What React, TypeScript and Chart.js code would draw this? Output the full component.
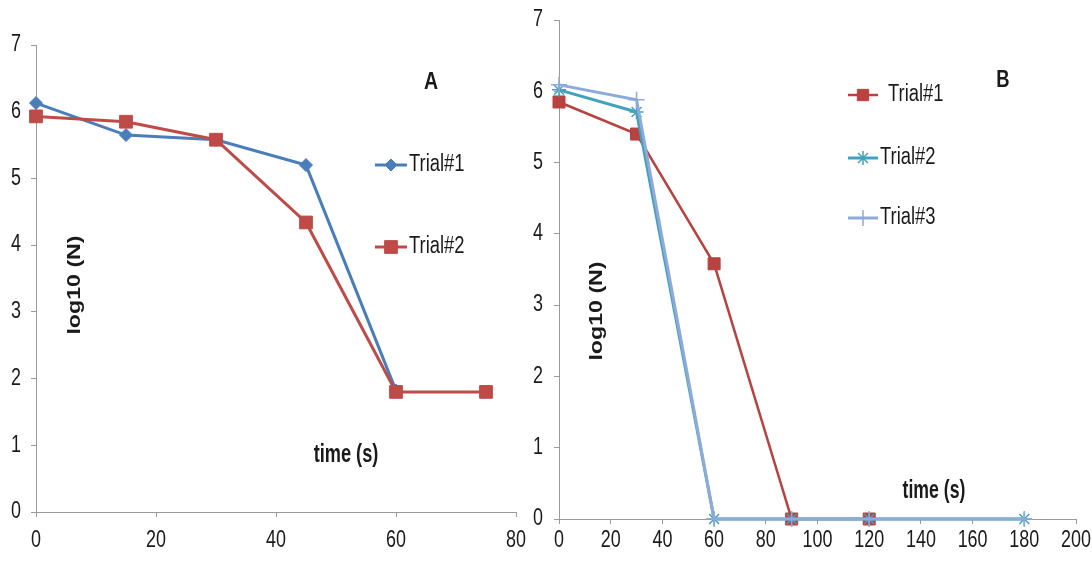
import React, { useEffect, useRef } from "react";
import { Chart, registerables } from "chart.js";
import { drawPoint } from "chart.js/helpers";

Chart.register(...registerables);

// Panel A: survival over time, two trials
const timesA = [0, 15, 30, 45, 60, 75];
const trial1A = [6.13, 5.65, 5.58, 5.2, 1.82, null];
const trial2A = [5.93, 5.85, 5.58, 4.34, 1.8, 1.8];

// Panel B: survival over time, three trials
const timesB = [0, 30, 60, 90, 120, 180];
const trial1B = [5.85, 5.4, 3.58, 0, 0, null];
const trial2B = [6.02, 5.71, 0, 0, 0, 0];
const trial3B = [6.09, 5.88, 0, 0, 0, 0];

const yTicks = [0, 1, 2, 3, 4, 5, 6, 7];

const SANS = '"Liberation Sans", Arial, sans-serif';
const AXIS_GREY = "#9a9a9a";
const TEXT = "#1a1a1a";

const toPoints = (xs: number[], ys: (number | null)[]) =>
  xs.map((x, i) => ({ x, y: ys[i] }));

// Text with a horizontal squeeze (narrow face) and optional rotation
function drawText(
  ctx: CanvasRenderingContext2D,
  text: string,
  x: number,
  y: number,
  font: string,
  sx: number,
  align: CanvasTextAlign = "center",
  rotate = 0
) {
  ctx.save();
  ctx.font = font;
  ctx.fillStyle = TEXT;
  ctx.textAlign = align;
  ctx.textBaseline = "middle";
  ctx.translate(x, y);
  if (rotate) ctx.rotate(rotate);
  ctx.scale(sx, 1);
  ctx.fillText(text, 0, 0);
  ctx.restore();
}

// Tick labels, free labels and a line+marker legend
const overlay = {
  id: "overlay",
  afterDraw(chart: any, _args: any, opts: any) {
    const ctx = chart.ctx as CanvasRenderingContext2D;
    const xs = chart.scales.x;
    const ys = chart.scales.y;
    const tf = opts.tickFont;
    for (const t of xs.ticks) {
      drawText(ctx, String(t.value), xs.getPixelForValue(t.value), opts.xLabelY, tf.font, tf.sx);
    }
    for (const t of ys.ticks) {
      drawText(ctx, String(t.value), opts.yLabelRight, ys.getPixelForValue(t.value), tf.font, tf.sx, "right");
    }
    for (const t of opts.texts || []) {
      drawText(ctx, t.text, t.x, t.y, t.font, t.sx, "center", t.rotate || 0);
    }
    const lg = opts.legend;
    chart.data.datasets.forEach((ds: any, i: number) => {
      const y = lg.y[i];
      ctx.save();
      ctx.strokeStyle = ds.borderColor;
      ctx.lineWidth = ds.borderWidth;
      ctx.beginPath();
      ctx.moveTo(lg.x, y);
      ctx.lineTo(lg.x + lg.len, y);
      ctx.stroke();
      ctx.fillStyle = ds.pointBackgroundColor;
      ctx.strokeStyle = ds.pointBorderColor;
      ctx.lineWidth = ds.pointBorderWidth;
      drawPoint(
        ctx,
        {
          pointStyle: ds.pointStyle,
          rotation: 0,
          radius: lg.radius[i],
          borderWidth: ds.pointBorderWidth,
        } as any,
        lg.x + lg.len / 2,
        y
      );
      ctx.restore();
      drawText(ctx, ds.label, lg.textX[i], y, lg.font, lg.sx, "left");
    });
  },
};

function axes(xMax: number, yWidth: number, xHeight: number) {
  const grid = {
    display: true,
    drawOnChartArea: false,
    drawTicks: true,
    tickLength: 5,
    color: AXIS_GREY,
    lineWidth: 1,
  };
  return {
    x: {
      type: "linear" as const,
      min: 0,
      max: xMax,
      grid,
      border: { display: true, color: AXIS_GREY, width: 1 },
      ticks: { stepSize: 20, display: false },
      afterFit: (s: any) => {
        s.height = xHeight;
      },
    },
    y: {
      type: "linear" as const,
      min: 0,
      max: 7,
      grid,
      border: { display: true, color: AXIS_GREY, width: 1 },
      afterBuildTicks: (s: any) => {
        s.ticks = yTicks.map((v) => ({ value: v }));
      },
      ticks: { display: false },
      afterFit: (s: any) => {
        s.width = yWidth;
      },
    },
  };
}

const tickFont = { font: `23px ${SANS}`, sx: 0.78 };
const legendFont = `23px ${SANS}`;
const axisTitle = `bold 19px ${SANS}`;
const timeFont = `bold 26px ${SANS}`;
const panelFont = `bold 23px ${SANS}`;

export default function App() {
  const refA = useRef<HTMLCanvasElement>(null);
  const refB = useRef<HTMLCanvasElement>(null);

  useEffect(() => {
    const blue = "#4a7ebb";
    const red = "#be4b48";
    const chartA = new Chart(refA.current!, {
      type: "line",
      data: {
        datasets: [
          {
            label: "Trial#1",
            data: toPoints(timesA, trial1A),
            borderColor: blue,
            backgroundColor: blue,
            borderWidth: 3,
            pointStyle: "rectRot",
            pointRadius: 6.5,
            pointBackgroundColor: blue,
            pointBorderColor: blue,
            pointBorderWidth: 1,
            clip: false,
            order: 2,
          },
          {
            label: "Trial#2",
            data: toPoints(timesA, trial2A),
            borderColor: red,
            backgroundColor: red,
            borderWidth: 3,
            pointStyle: "rect",
            pointRadius: 9,
            pointBackgroundColor: red,
            pointBorderColor: red,
            pointBorderWidth: 1,
            clip: false,
            order: 1,
          },
        ] as any,
      },
      options: {
        animation: false,
        responsive: false,
        layout: { padding: { top: 45, right: 24, left: 0, bottom: 0 } },
        scales: axes(80, 36, 49) as any,
        plugins: {
          legend: { display: false },
          tooltip: { enabled: false },
          overlay: {
            tickFont,
            xLabelY: 541,
            yLabelRight: 21,
            texts: [
              { text: "A", x: 431, y: 83, font: panelFont, sx: 0.85 },
              { text: "log10 (N)", x: 75, y: 285, font: axisTitle, sx: 1.22, rotate: -Math.PI / 2 },
              { text: "time (s)", x: 346, y: 455, font: timeFont, sx: 0.7 },
            ],
            legend: {
              x: 375,
              len: 32,
              y: [165, 247],
              radius: [6, 9],
              textX: [409, 409],
              font: legendFont,
              sx: 0.8,
            },
          },
        } as any,
      },
      plugins: [overlay],
    });

    const darkRed = "#b8423f";
    const teal = "#43a2bb";
    const pale = "#8eaadb";
    const offB = 520;
    const chartB = new Chart(refB.current!, {
      type: "line",
      data: {
        datasets: [
          {
            label: "Trial#1",
            data: toPoints(timesB, trial1B),
            borderColor: darkRed,
            backgroundColor: darkRed,
            borderWidth: 2.5,
            pointStyle: "rect",
            pointRadius: 8.5,
            pointBackgroundColor: darkRed,
            pointBorderColor: darkRed,
            pointBorderWidth: 1,
            clip: false,
            order: 3,
          },
          {
            label: "Trial#2",
            data: toPoints(timesB, trial2B),
            borderColor: teal,
            backgroundColor: teal,
            borderWidth: 3,
            pointStyle: "star",
            pointRadius: 7,
            pointBackgroundColor: teal,
            pointBorderColor: teal,
            pointBorderWidth: 1.5,
            clip: false,
            order: 2,
          },
          {
            label: "Trial#3",
            data: toPoints(timesB, trial3B),
            borderColor: pale,
            backgroundColor: pale,
            borderWidth: 3,
            pointStyle: "cross",
            pointRadius: 8,
            pointBackgroundColor: pale,
            pointBorderColor: pale,
            pointBorderWidth: 1.5,
            clip: false,
            order: 1,
          },
        ] as any,
      },
      options: {
        animation: false,
        responsive: false,
        layout: { padding: { top: 20, right: 16, left: 0, bottom: 0 } },
        scales: axes(200, 39, 42) as any,
        plugins: {
          legend: { display: false },
          tooltip: { enabled: false },
          overlay: {
            tickFont,
            xLabelY: 541,
            yLabelRight: 543 - offB,
            texts: [
              { text: "B", x: 1003 - offB, y: 81, font: panelFont, sx: 0.8 },
              { text: "log10 (N)", x: 597 - offB, y: 311, font: axisTitle, sx: 1.22, rotate: -Math.PI / 2 },
              { text: "time (s)", x: 934 - offB, y: 491, font: timeFont, sx: 0.68 },
            ],
            legend: {
              x: 848 - offB,
              len: 30,
              y: [95, 158, 218],
              radius: [8, 7, 8],
              textX: [888 - offB, 880 - offB, 880 - offB],
              font: legendFont,
              sx: 0.8,
            },
          },
        } as any,
      },
      plugins: [overlay],
    });

    return () => {
      chartA.destroy();
      chartB.destroy();
    };
  }, []);

  return (
    <div
      style={{
        position: "absolute",
        left: 0,
        top: 0,
        width: 1092,
        height: 561,
        background: "#ffffff",
      }}
    >
      <canvas
        ref={refA}
        width={540}
        height={561}
        style={{ position: "absolute", left: 0, top: 0, width: 540, height: 561 }}
      />
      <canvas
        ref={refB}
        width={572}
        height={561}
        style={{ position: "absolute", left: 520, top: 0, width: 572, height: 561 }}
      />
    </div>
  );
}
